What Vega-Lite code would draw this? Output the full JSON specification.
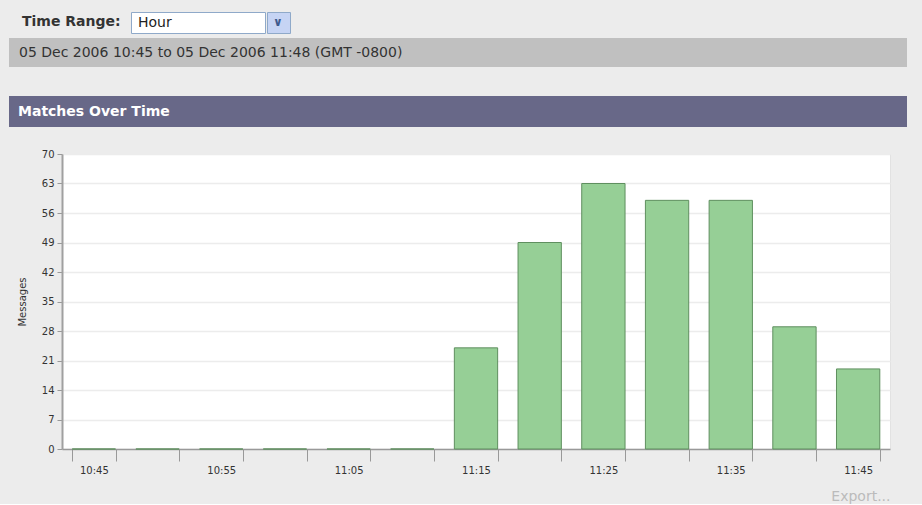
{
  "$schema": "https://vega.github.io/schema/vega-lite/v6.json",
  "background": "#ececec",
  "padding": {"left": 9, "top": 6, "right": 15, "bottom": 0},
  "spacing": 0,
  "config": {
    "font": "DejaVu Sans",
    "view": {"stroke": null},
    "title": {"font": "DejaVu Sans", "anchor": "start", "frame": "group"}
  },
  "vconcat": [
    {
      "hconcat": [
        {
          "width": 112, "height": 32,
          "view": {"fill": "#ececec", "stroke": null},
          "data": {"values": []},
          "mark": "rect", "encoding": {},
          "title": {"text": "Time Range:", "fontSize": 14, "fontWeight": "bold", "color": "#333333", "offset": -23, "dx": 13}
        },
        {
          "vconcat": [
            {
              "width": 157, "height": 5,
              "view": {"fill": "#ececec", "stroke": null},
              "data": {"values": []},
              "mark": "rect", "encoding": {}
            },
            {
              "hconcat": [
                {
                  "width": 134, "height": 21,
                  "view": {"fill": "#ffffff", "stroke": "#8fa9c9", "strokeWidth": 1},
                  "data": {"values": []},
                  "mark": "rect", "encoding": {},
                  "title": {"text": "Hour", "fontSize": 14, "fontWeight": "normal", "color": "#222222", "offset": -18, "dx": 7}
                },
                {
                  "width": 23, "height": 21,
                  "view": {"fill": "#c6d4f4", "stroke": "#8fa9c9", "strokeWidth": 1},
                  "data": {"values": []},
                  "mark": "rect", "encoding": {},
                  "title": {"text": "∨", "fontSize": 12, "fontWeight": "bold", "color": "#3e5a8e", "offset": -17, "dx": 6}
                }
              ],
              "spacing": 0
            }
          ],
          "spacing": 0
        }
      ],
      "spacing": 9
    },
    {
      "width": 898, "height": 29,
      "view": {"fill": "#c0c0c0", "stroke": null},
      "data": {"values": []},
      "mark": "rect", "encoding": {},
      "title": {"text": "05 Dec 2006 10:45 to 05 Dec 2006 11:48 (GMT -0800)", "fontSize": 14, "fontWeight": "normal", "color": "#333333", "offset": -22, "dx": 10}
    },
    {
      "width": 898, "height": 29,
      "view": {"fill": "#ececec", "stroke": null},
      "data": {"values": []},
      "mark": "rect", "encoding": {}
    },
    {
      "width": 898, "height": 31,
      "view": {"fill": "#686888", "stroke": null},
      "data": {"values": []},
      "mark": "rect", "encoding": {},
      "title": {"text": "Matches Over Time", "fontSize": 14, "fontWeight": "bold", "color": "#ffffff", "offset": -23, "dx": 9}
    },
    {
      "width": 898, "height": 21,
      "view": {"fill": "#ececec", "stroke": null},
      "data": {"values": []},
      "mark": "rect", "encoding": {}
    },
    {
      "hconcat": [
        {
          "width": 53, "height": 295,
          "view": {"fill": null, "stroke": null},
          "data": {"values": []},
          "mark": "rect", "encoding": {}
        },
        {
          "width": 828, "height": 295,
          "view": {"fill": "#ffffff", "stroke": "#e2e2e2"},
          "data": {
            "values": [
              {"time": "10:45", "messages": 0},
              {"time": "10:50", "messages": 0},
              {"time": "10:55", "messages": 0},
              {"time": "11:00", "messages": 0},
              {"time": "11:05", "messages": 0},
              {"time": "11:10", "messages": 0},
              {"time": "11:15", "messages": 24},
              {"time": "11:20", "messages": 49},
              {"time": "11:25", "messages": 63},
              {"time": "11:30", "messages": 59},
              {"time": "11:35", "messages": 59},
              {"time": "11:40", "messages": 29},
              {"time": "11:45", "messages": 19}
            ]
          },
          "mark": {"type": "bar", "fill": "#96cf96", "stroke": "#5f8f5f", "strokeWidth": 1, "orient": "vertical"},
          "encoding": {
            "x": {
              "field": "time", "type": "ordinal", "sort": null,
              "scale": {"paddingInner": 0.32, "paddingOuter": 0.16},
              "axis": {
                "title": "Export...",
                "titleAnchor": "end",
                "titleFontSize": 14,
                "titleFontWeight": "normal",
                "titleColor": "#bbbbbb",
                "titlePadding": 14,
                "labelAngle": 0,
                "labelExpr": "slice(datum.label, -1) == '5' ? datum.label : ''",
                "labelFontSize": 10,
                "labelColor": "#333333",
                "labelPadding": 4,
                "tickBand": "extent",
                "tickSize": 12,
                "tickColor": "#999999",
                "domainColor": "#999999",
                "domainWidth": 1.5,
                "grid": false
              }
            },
            "y": {
              "field": "messages", "type": "quantitative",
              "scale": {"domain": [0, 70], "nice": false},
              "axis": {
                "title": "Messages",
                "titleFontSize": 10,
                "titleFontWeight": "normal",
                "titleColor": "#333333",
                "titlePadding": 14,
                "values": [0, 7, 14, 21, 28, 35, 42, 49, 56, 63, 70],
                "labelFontSize": 10,
                "labelColor": "#333333",
                "labelPadding": 3,
                "tickSize": 5,
                "tickColor": "#999999",
                "domainColor": "#a0a0a0",
                "domainWidth": 2,
                "gridColor": "#ececec",
                "gridWidth": 1.5
              }
            }
          }
        }
      ],
      "spacing": 0,
      "bounds": "flush"
    }
  ]
}
